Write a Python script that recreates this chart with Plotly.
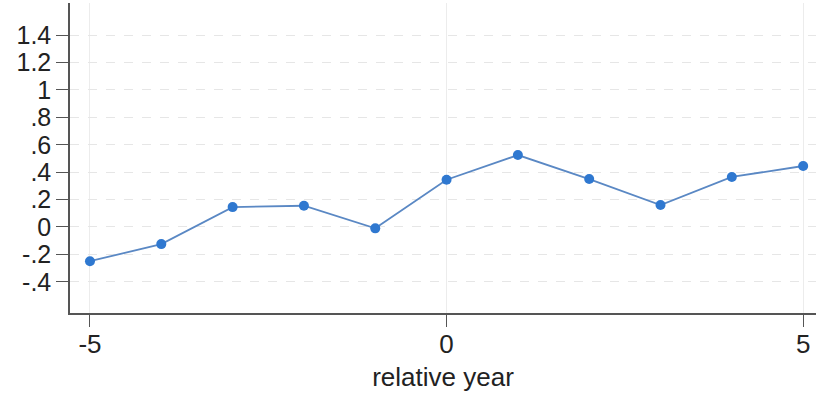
import plotly.graph_objects as go

years = [-5, -4, -3, -2, -1, 0, 1, 2, 3, 4, 5]
estimates = [-0.25, -0.125, 0.145, 0.155, -0.01, 0.345, 0.525, 0.35, 0.16, 0.365, 0.445]

y_tick_vals = [1.4, 1.2, 1.0, 0.8, 0.6, 0.4, 0.2, 0.0, -0.2, -0.4]
y_tick_text = ["1.4", "1.2", "1", ".8", ".6", ".4", ".2", "0", "-.2", "-.4"]
x_tick_vals = [-5, 0, 5]
x_tick_text = ["-5", "0", "5"]

font_family = "Liberation Sans, Arial, sans-serif"

fig = go.Figure()
fig.add_trace(go.Scatter(
    x=years, y=estimates, mode="lines+markers",
    line=dict(color="#5a88c4", width=1.8),
    marker=dict(color="#2f78d0", size=10),
    showlegend=False,
))

fig.update_layout(
    width=816, height=401,
    margin=dict(l=70, r=0, t=3, b=88, autoexpand=False),
    paper_bgcolor="white", plot_bgcolor="white",
    font=dict(family=font_family, color="#222222"),
)
fig.update_xaxes(
    range=[-5.28, 5.18],
    tickvals=x_tick_vals, ticktext=x_tick_text,
    ticks="outside", ticklen=12, tickwidth=1, tickcolor="#555555",
    ticklabelstandoff=-5,
    tickfont=dict(size=26, family=font_family, color="#222222"),
    showline=True, linecolor="#555555", linewidth=1.5,
    showgrid=True, gridcolor="#ececec", gridwidth=1,
    zeroline=False,
    title=dict(text="relative year", font=dict(size=26, family=font_family, color="#222222"), standoff=10),
)
fig.update_yaxes(
    range=[-0.628, 1.635],
    tickvals=y_tick_vals, ticktext=y_tick_text,
    ticks="outside", ticklen=12, tickwidth=1, tickcolor="#555555",
    tickfont=dict(size=25, family=font_family, color="#222222"),
    showline=True, linecolor="#555555", linewidth=1.5,
    showgrid=True, gridcolor="#e6e6e6", gridwidth=1, griddash="dash",
    zeroline=False,
)

fig.write_html("out.html", config={"displayModeBar": False},
               post_script="document.body.style.margin='0';")
